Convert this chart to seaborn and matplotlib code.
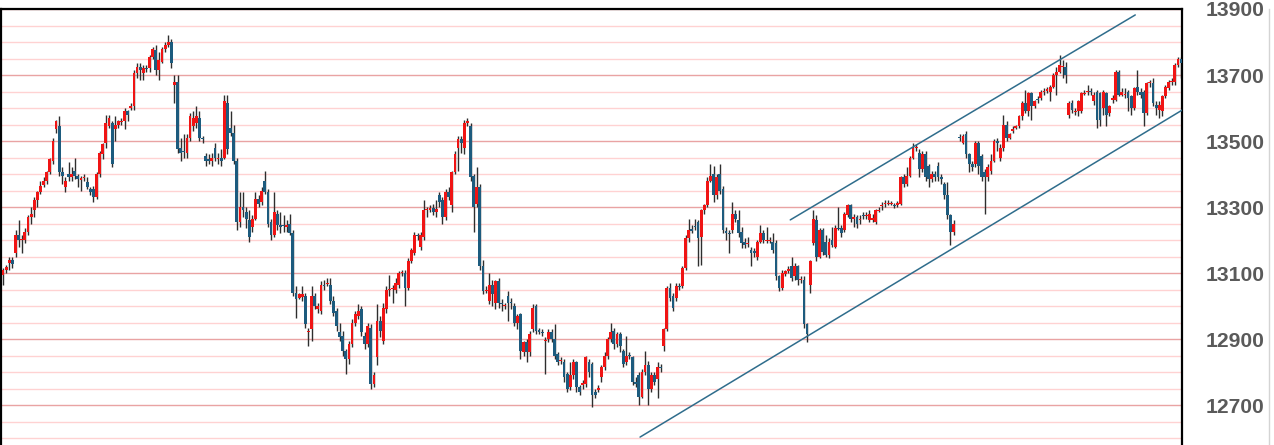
import numpy as np
import pandas as pd
import matplotlib
matplotlib.use("Agg")
import matplotlib.pyplot as plt
import seaborn as sns

sns.set_style("white")
plt.rcParams['font.family'] = ['Liberation Sans', 'DejaVu Sans']

# ---------------- data ----------------
opens = [
    13095, 13108, 13130, 13140, 13160, 13215, 13200, 13200, 13225, 13270,
    13290, 13320, 13345, 13368, 13380, 13405, 13440, 13535, 13545, 13405,
    13360, 13400, 13390, 13410, 13395, 13383, 13388, 13375, 13355, 13355,
    13330, 13400, 13460, 13495, 13545, 13555, 13535, 13550, 13558, 13560,
    13590, 13600, 13605, 13705, 13725, 13705, 13720, 13720, 13755, 13775,
    13715, 13740, 13780, 13790, 13800, 13670, 13680, 13480, 13470, 13465,
    13510, 13545, 13555, 13570, 13510, 13455, 13445, 13440, 13480, 13445,
    13450, 13450, 13615, 13540, 13525, 13440, 13255, 13300, 13285, 13260,
    13240, 13265, 13325, 13315, 13380, 13345, 13255, 13215, 13280, 13245,
    13245, 13240, 13250, 13220, 13040, 13025, 13028, 13030, 12920, 12930,
    13030, 12990, 12985, 13065, 13066, 13065, 13015, 12985, 12920, 12910,
    12865, 12840, 12885, 12950, 12970, 12990, 12910, 12885, 12935, 12765,
    12845, 12955, 12895, 12990, 13050, 13053, 13050, 13065, 13100, 13100,
    13055, 13135, 13160, 13215, 13180, 13210, 13290, 13292, 13298, 13285,
    13335, 13320, 13270, 13345, 13305, 13405, 13480, 13505, 13480, 13555,
    13545, 13395, 13310, 13360, 13120, 13045, 13015, 13065, 13010, 13075,
    13010, 13000, 13030, 13012, 13000, 12950, 12975, 12860, 12890, 12860,
    12930, 13000, 12927, 12922, 12893, 12900, 12920, 12900, 12855, 12833,
    12830, 12795, 12755, 12790, 12830, 12755, 12760, 12765, 12830, 12825,
    12740, 12745, 12785, 12815, 12850, 12900, 12925, 12885, 12915, 12865,
    12830, 12850, 12845, 12770, 12790, 12725, 12800, 12820, 12750, 12790,
    12780, 12815, 12880, 12930, 13055, 13030, 13025, 13060, 13060, 13115,
    13205, 13232, 13242, 13255, 13210, 13290, 13305, 13380, 13400, 13335,
    13400, 13355, 13228, 13222, 13230, 13280, 13260, 13225, 13195, 13188,
    13170, 13168, 13150, 13195, 13220, 13196, 13198, 13195, 13190, 13090,
    13055, 13098, 13105, 13120, 13090, 13120, 13078, 13080, 12945, 13065,
    13190, 13260, 13150, 13230, 13195, 13155, 13200, 13180, 13235, 13235,
    13230, 13275, 13305, 13265, 13270, 13260, 13277, 13273, 13262, 13262,
    13255, 13288, 13303, 13308, 13310, 13310, 13307, 13305, 13310, 13390,
    13370, 13395, 13450, 13478, 13465, 13415, 13460, 13425, 13385, 13400,
    13425, 13390, 13370, 13335, 13275, 13225,
    13510, 13495, 13520, 13460,
    13430, 13430, 13495, 13455, 13405, 13390, 13410, 13440, 13500, 13450,
    13480, 13550, 13510, 13530, 13540, 13545, 13575, 13615, 13590, 13645,
    13605, 13627, 13630, 13648, 13653, 13650, 13665, 13700, 13710, 13725,
    13725, 13580, 13615, 13588, 13590, 13590, 13643, 13648, 13652, 13620,
    13650, 13645, 13600, 13645, 13585, 13625, 13625, 13710, 13640, 13638,
    13650, 13635, 13600, 13665, 13650, 13650, 13585, 13675, 13675, 13610,
    13595, 13590, 13635, 13660, 13678, 13680, 13730, 13750,
]
closes = [
    13108, 13118, 13140, 13128, 13215, 13200, 13202, 13225, 13270, 13278,
    13320, 13345, 13365, 13380, 13405, 13445, 13500, 13560, 13405, 13395,
    13378, 13390, 13400, 13395, 13385, 13387, 13392, 13360, 13345, 13330,
    13400, 13465, 13490, 13555, 13570, 13430, 13550, 13560, 13562, 13590,
    13580, 13605, 13705, 13725, 13715, 13720, 13717, 13755, 13780, 13715,
    13745, 13780, 13790, 13800, 13735, 13680, 13475, 13465, 13468, 13510,
    13575, 13570, 13575, 13510, 13505, 13440, 13440, 13450, 13450, 13450,
    13440, 13620, 13475, 13525, 13440, 13255, 13300, 13290, 13265, 13210,
    13265, 13325, 13310, 13350, 13345, 13250, 13215, 13285, 13245, 13240,
    13242, 13246, 13220, 13040, 13020, 13035, 13035, 12945, 12925, 13030,
    13000, 13000, 13065, 13062, 13070, 13015, 12980, 12940, 12905, 12865,
    12840, 12885, 12950, 12975, 12985, 12920, 12885, 12940, 12765, 12790,
    12955, 12925, 12995, 13050, 13052, 13056, 13070, 13100, 13102, 13055,
    13135, 13170, 13215, 13212, 13215, 13290, 13292, 13296, 13286, 13295,
    13315, 13270, 13345, 13330, 13405, 13460, 13505, 13495, 13555, 13560,
    13390, 13300, 13360, 13120, 13045, 13050, 13065, 13035, 13075, 13010,
    13005, 13002, 13010, 13008, 12950, 12970, 12865, 12890, 12860, 12915,
    12995, 12925, 12922, 12918, 12897, 12920, 12900, 12850, 12830, 12837,
    12785, 12750, 12790, 12830, 12755, 12740, 12768, 12845, 12800, 12730,
    12730, 12752, 12815, 12850, 12900, 12920, 12885, 12915, 12880, 12825,
    12850, 12848, 12770, 12765, 12725, 12800, 12820, 12750, 12790, 12770,
    12815, 12812, 12930, 13055, 13025, 12995, 13060, 13058, 13115, 13205,
    13230, 13228, 13238, 13205, 13290, 13305, 13380, 13395, 13335, 13390,
    13350, 13230, 13222, 13218, 13280, 13265, 13220, 13190, 13185, 13192,
    13160, 13162, 13195, 13220, 13200, 13198, 13200, 13170, 13090, 13055,
    13100, 13105, 13112, 13085, 13120, 13080, 13082, 12945, 12915, 13135,
    13265, 13150, 13230, 13165, 13155, 13195, 13185, 13235, 13233, 13220,
    13280, 13305, 13265, 13270, 13250, 13265, 13273, 13277, 13280, 13268,
    13290, 13292, 13307, 13312, 13313, 13312, 13303, 13312, 13390, 13370,
    13395, 13450, 13480, 13482, 13415, 13460, 13390, 13385, 13400, 13390,
    13390, 13385, 13335, 13275, 13225, 13250,
    13508, 13515, 13460, 13430,
    13420, 13495, 13425, 13390, 13390, 13420, 13440, 13500, 13495, 13480,
    13550, 13510, 13520, 13537, 13545, 13575, 13615, 13590, 13645, 13605,
    13620, 13623, 13650, 13652, 13657, 13665, 13700, 13710, 13730, 13728,
    13700, 13615, 13595, 13592, 13620, 13645, 13647, 13652, 13648, 13640,
    13565, 13565, 13650, 13580, 13605, 13630, 13710, 13640, 13650, 13642,
    13630, 13600, 13660, 13650, 13640, 13585, 13675, 13677, 13615, 13600,
    13610, 13635, 13665, 13680, 13682, 13730, 13750, 13735,
]
highs = [
    13115, 13125, 13150, 13150, 13230, 13260, 13215, 13235, 13275, 13300,
    13330, 13350, 13380, 13390, 13410, 13450, 13510, 13565, 13575, 13420,
    13390, 13435, 13420, 13450, 13400, 13395, 13400, 13390, 13360, 13365,
    13405, 13470, 13495, 13580, 13580, 13560, 13575, 13565, 13570, 13600,
    13595, 13615, 13715, 13735, 13735, 13730, 13730, 13760, 13785, 13790,
    13770, 13785, 13800, 13820, 13810, 13700, 13700, 13510, 13520, 13520,
    13585, 13590, 13605, 13590, 13515, 13465, 13460, 13465, 13495, 13465,
    13475, 13640, 13640, 13590, 13550, 13450, 13345, 13345, 13300, 13290,
    13275, 13345, 13335, 13360, 13410, 13355, 13265, 13345, 13290, 13285,
    13275, 13260, 13280, 13230, 13060, 13040, 13060, 13040, 12935, 13060,
    13040, 13010, 13075, 13080, 13085, 13085, 13030, 12995, 12950, 12925,
    12870, 12895, 12960, 12985, 13005, 13000, 12920, 12950, 12945, 12800,
    13005, 12970, 13010, 13060, 13095, 13065, 13085, 13105, 13110, 13110,
    13145, 13175, 13225, 13220, 13225, 13320, 13300, 13305, 13310, 13320,
    13345, 13330, 13355, 13360, 13410, 13470, 13515, 13515, 13565, 13570,
    13555, 13400, 13420, 13370, 13140, 13060, 13100, 13080, 13080, 13085,
    13020, 13010, 13045, 13025, 13010, 12975, 12980, 12895, 12900, 12925,
    13005, 13005, 12935, 12930, 12905, 12930, 12930, 12945, 12860, 12845,
    12840, 12800, 12830, 12840, 12835, 12760, 12775, 12850, 12840, 12830,
    12750, 12760, 12820, 12860, 12905, 12950, 12935, 12920, 12920, 12870,
    12910, 12860, 12850, 12785, 12800, 12810, 12865, 12835, 12800, 12800,
    12830, 12825, 12935, 13060, 13070, 13040, 13070, 13070, 13120, 13215,
    13265, 13245, 13265, 13260, 13295, 13310, 13390, 13430, 13425, 13400,
    13430, 13365, 13240, 13230, 13315, 13290, 13290, 13240, 13205, 13210,
    13180, 13175, 13200, 13245, 13230, 13240, 13210, 13220, 13200, 13095,
    13110, 13110, 13120, 13150, 13130, 13125, 13090, 13090, 12950, 13140,
    13290, 13275, 13235, 13235, 13215, 13205, 13240, 13245, 13300, 13245,
    13285, 13310, 13310, 13280, 13275, 13275, 13285, 13285, 13290, 13280,
    13295, 13300, 13315, 13320, 13320, 13318, 13312, 13318, 13395, 13400,
    13420, 13455, 13495, 13490, 13475, 13470, 13470, 13430, 13410, 13410,
    13435, 13400, 13375, 13375, 13280, 13260,
    13520, 13520, 13530, 13465,
    13440, 13500, 13500, 13460, 13415, 13430, 13460, 13505, 13510, 13490,
    13580, 13560, 13525, 13545, 13550, 13580, 13620, 13655, 13650, 13650,
    13625, 13635, 13655, 13660, 13665, 13670, 13705, 13725, 13760, 13745,
    13740, 13620, 13625, 13600, 13625, 13650, 13655, 13670, 13660, 13650,
    13655, 13650, 13655, 13650, 13610, 13640, 13715, 13715, 13660, 13660,
    13655, 13640, 13665, 13715, 13660, 13655, 13680, 13685, 13690, 13620,
    13620, 13640, 13670, 13685, 13690, 13735, 13755, 13755,
]
lows = [
    13065, 13100, 13110, 13115, 13150, 13180, 13160, 13190, 13215, 13250,
    13270, 13300, 13340, 13360, 13370, 13400, 13430, 13525, 13395, 13370,
    13345, 13380, 13380, 13385, 13360, 13350, 13380, 13355, 13335, 13315,
    13325, 13390, 13445, 13480, 13540, 13420, 13500, 13540, 13550, 13535,
    13560, 13595, 13595, 13690, 13685, 13685, 13710, 13710, 13750, 13700,
    13685, 13735, 13770, 13785, 13720, 13615, 13465, 13440, 13450, 13450,
    13500, 13530, 13540, 13500, 13495, 13425, 13430, 13425, 13440, 13430,
    13425, 13445, 13460, 13515, 13430, 13230, 13240, 13270, 13235, 13195,
    13225, 13260, 13300, 13305, 13340, 13240, 13200, 13210, 13230, 13220,
    13225, 13225, 13215, 13030, 12965, 13020, 13015, 12935, 12880, 12895,
    12990, 12980, 12975, 13050, 13060, 13005, 12970, 12925, 12895, 12850,
    12795, 12825, 12875, 12940, 12960, 12910, 12870, 12875, 12750, 12755,
    12820, 12905, 12885, 12980, 13030, 13010, 13040, 13055, 13090, 13000,
    13050, 13130, 13155, 13200, 13170, 13200, 13270, 13285, 13275, 13270,
    13300, 13250, 13260, 13320, 13285, 13400, 13410, 13465, 13460, 13545,
    13380, 13225, 13300, 13110, 13035, 13040, 13005, 13000, 12990, 12995,
    12985, 12990, 12955, 12990, 12940, 12930, 12840, 12850, 12830, 12850,
    12920, 12915, 12915, 12910, 12795, 12890, 12890, 12840, 12820, 12825,
    12770, 12740, 12745, 12780, 12740, 12730, 12750, 12755, 12785, 12695,
    12720, 12740, 12770, 12805, 12840, 12890, 12870, 12875, 12860, 12815,
    12820, 12840, 12760, 12755, 12700, 12720, 12790, 12700, 12740, 12760,
    12720, 12800, 12865, 12925, 13015, 12985, 13015, 13050, 13055, 13110,
    13195, 13220, 13230, 13120, 13125, 13280, 13300, 13375, 13315, 13325,
    13340, 13220, 13200, 13160, 13220, 13255, 13210, 13175, 13175, 13180,
    13120, 13150, 13140, 13190, 13190, 13190, 13190, 13160, 13080, 13045,
    13050, 13090, 13100, 13075, 13080, 13065, 13070, 12935, 12890, 13040,
    13185, 13135, 13145, 13155, 13150, 13145, 13180, 13175, 13230, 13210,
    13225, 13270, 13255, 13240, 13235, 13250, 13265, 13265, 13255, 13255,
    13250, 13285, 13290, 13300, 13305, 13305, 13298, 13300, 13305, 13360,
    13365, 13390, 13445, 13470, 13390, 13405, 13380, 13360, 13375, 13380,
    13380, 13370, 13325, 13265, 13185, 13215,
    13500, 13490, 13450, 13405,
    13410, 13420, 13400, 13380, 13280, 13380, 13400, 13435, 13470, 13440,
    13470, 13500, 13505, 13525, 13535, 13540, 13565, 13585, 13575, 13565,
    13600, 13615, 13625, 13640, 13645, 13620, 13660, 13640, 13705, 13690,
    13675, 13570, 13585, 13580, 13575, 13585, 13640, 13640, 13640, 13610,
    13540, 13545, 13580, 13545, 13575, 13615, 13620, 13635, 13635, 13630,
    13590, 13580, 13595, 13640, 13630, 13545, 13580, 13665, 13605, 13580,
    13570, 13575, 13630, 13655, 13670, 13670, 13725, 13690,
]
session_break = 306          # one empty slot after this candle
channel_upper_x = [252.6, 363.3]
channel_upper_y = [13261, 13882]
channel_lower_x = [204.4, 378.4]
channel_lower_y = [12603, 13594]
label_levels = [12700, 12900, 13100, 13300, 13500, 13700, 13900]
grid_levels = list(range(12600, 13900, 50))

# ---------------- build ----------------
o = np.array(opens, float); c = np.array(closes, float)
h = np.maximum(np.array(highs, float), np.maximum(o, c))
l = np.minimum(np.array(lows, float), np.minimum(o, c))
x = np.arange(len(o), dtype=float)
x[session_break:] += 1
up = c >= o

RED = '#f01414'
BLUE = '#1d5b7e'

fig = plt.figure(figsize=(12.74, 4.45), dpi=100)
W, H = 1274.0, 445.0
ax = fig.add_axes([1.5 / W, 0.0, (1182 - 1.5) / W, 436 / H])

ax.set_ylim(12579, 13900)
ax.set_xlim(-0.5, 378.3)

ax.set_yticks(label_levels)
ax.set_yticks(grid_levels, minor=True)
ax.grid(which='minor', axis='y', color='#ffd2d2', lw=1.0)
ax.grid(which='major', axis='y', color='#e9a3a3', lw=1.0)
ax.grid(False, axis='x')
ax.set_axisbelow(True)
ax.tick_params(axis='both', which='both', length=0, labelleft=False, labelbottom=False)
ax.set_xticks([])

# wicks
ax.vlines(x, l, h, color='#2e2e2e', lw=1.0, zorder=2)
# bodies
body_h = np.maximum(np.abs(c - o), 3)
ax.bar(x[up], body_h[up], bottom=np.minimum(o, c)[up], width=0.9,
       color=RED, edgecolor='none', zorder=3)
ax.bar(x[~up], body_h[~up], bottom=np.minimum(o, c)[~up], width=0.9,
       color=BLUE, edgecolor='none', zorder=3)

# channel lines
chan = pd.DataFrame({
    'x': channel_upper_x + channel_lower_x,
    'y': channel_upper_y + channel_lower_y,
    'line': ['upper', 'upper', 'lower', 'lower'],
})
sns.lineplot(data=chan, x='x', y='y', units='line', estimator=None,
             color='#2f6d8c', lw=1.1, ax=ax, zorder=4, legend=False)
ax.set_xlabel(''); ax.set_ylabel('')

for side in ['top', 'left', 'right']:
    ax.spines[side].set_visible(True)
    ax.spines[side].set_color('black')
    ax.spines[side].set_linewidth(1.6)
ax.spines['bottom'].set_visible(False)

# price axis on the right
ax2 = fig.add_axes([1269 / W, 0.0, 5 / W, 436 / H])
ax2.set_ylim(12579, 13900)
ax2.set_facecolor('none')
for side in ['top', 'right', 'bottom']:
    ax2.spines[side].set_visible(False)
ax2.spines['left'].set_color('#d4d4d4')
ax2.spines['left'].set_linewidth(1.0)
ax2.set_xticks([])
ax2.set_yticks(label_levels)
ax2.set_yticklabels([str(v) for v in label_levels])
ax2.set_yticks(grid_levels + [13850], minor=True)
ax2.tick_params(axis='y', which='both', direction='in', length=4,
                color='#cfcfcf', width=1, pad=3)
for t in ax2.get_yticklabels():
    t.set_fontsize(15.2)
    t.set_fontweight('bold')
    t.set_color('#5a5a5a')

fig.savefig('out.png', dpi=100)
